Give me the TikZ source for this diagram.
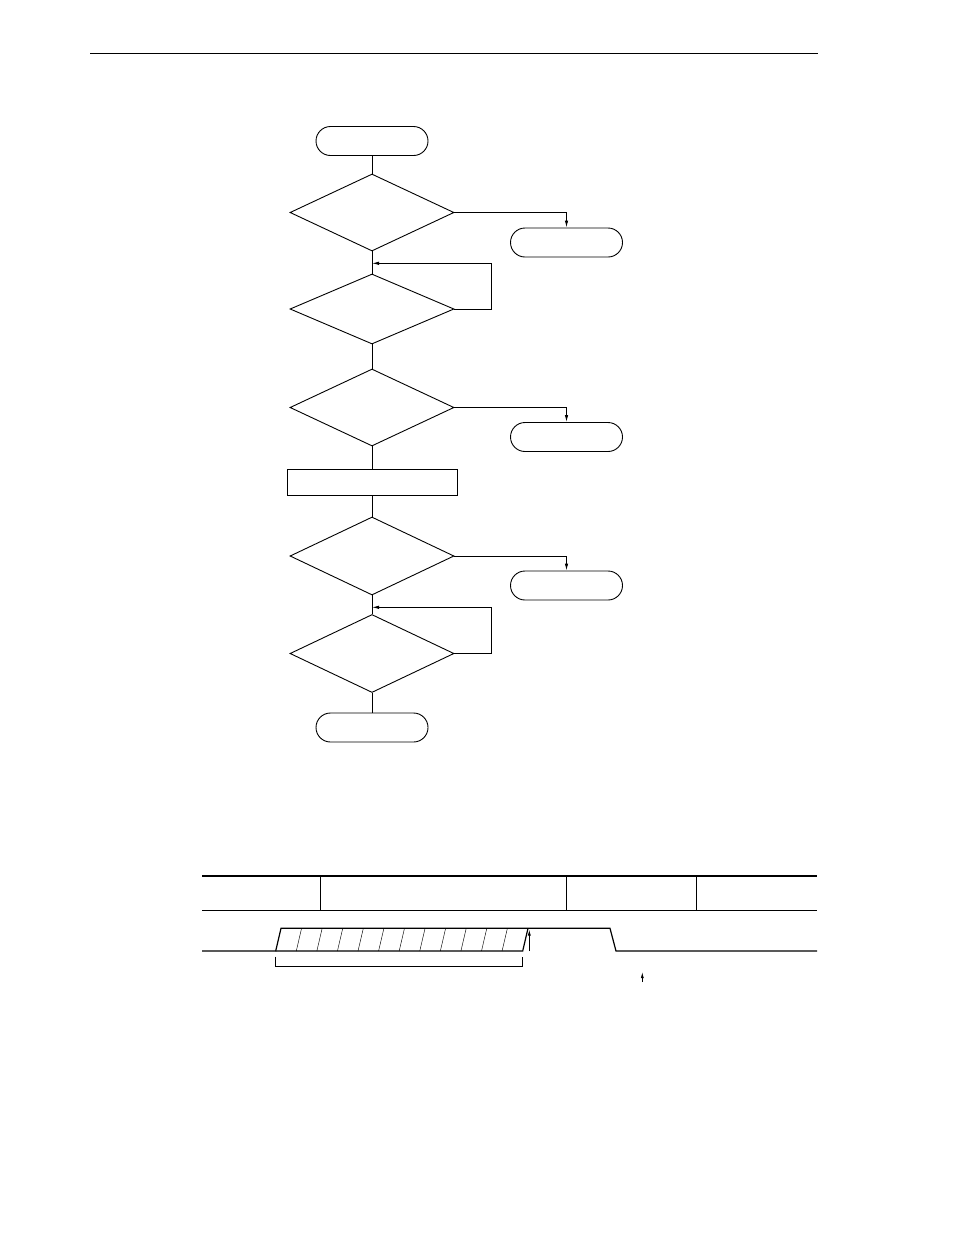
\documentclass[tikz,border=0pt]{standalone}
\usepackage{tikz}
\usetikzlibrary{shapes.geometric, arrows.meta, positioning, calc}

\begin{document}
\begin{tikzpicture}[x=1pt, y=-1pt, line width=0.9pt,
    term/.style={draw, rounded corners=14.5pt, minimum width=112pt, minimum height=29pt, inner sep=0pt},
    decide/.style={draw, diamond, minimum width=164pt, minimum height=77pt, inner sep=0pt},
    procbox/.style={draw, rectangle, minimum width=170pt, minimum height=26pt, inner sep=0pt},
    flowarrow/.style={-{Latex[length=7pt, width=3.5pt]}}]
        \useasboundingbox (0,0) rectangle (954,1235);
        \draw[line width=1pt] (90,53.3) -- (818,53.3);

        % flowchart
        \node[term] at (372,141) (start) {};
        \node[decide] at (372,212.5) (chk1) {};
        \node[term] at (566.5,242.5) (out1) {};
        \node[decide, minimum height=70pt] at (372,309) (wait1) {};
        \node[decide] at (372,407.5) (chk2) {};
        \node[term] at (566.5,437) (out2) {};
        \node[procbox] at (372,482) (proc) {};
        \node[decide, minimum height=78pt] at (372,556) (chk3) {};
        \node[term] at (566.5,585.5) (out3) {};
        \node[decide, minimum height=78pt] at (372,653.5) (wait2) {};
        \node[term] at (372,727.5) (stop) {};
        \coordinate (join1) at (372,263.3);
        \coordinate (join2) at (372,607.3);

        \draw (start) -- (chk1);
        \draw[flowarrow] (chk1.east) -| (out1.north);
        \draw (chk1) -- (wait1);
        \draw[flowarrow] (wait1.east) -- ++(37,0) |- (join1);
        \draw (wait1) -- (chk2);
        \draw[flowarrow] (chk2.east) -| (out2.north);
        \draw (chk2) -- (proc);
        \draw (proc) -- (chk3);
        \draw[flowarrow] (chk3.east) -| (out3.north);
        \draw (chk3) -- (wait2);
        \draw[flowarrow] (wait2.east) -- ++(37,0) |- (join2);
        \draw (wait2) -- (stop);

        % timing
        \draw[line width=1.6pt] (202,876) -- (817,876);
        \draw[line width=1.6pt] (202,910.5) -- (817,910.5);
        \foreach \xx in {320.3, 566.7, 696.5}
            \draw[line width=0.9pt] (\xx,876) -- (\xx,910.5);
        \draw[line width=1.2pt] (202,951) -- (275.7,951) -- (281,928.3) -- (610,928.3) -- (616,951) -- (817,951);
        \draw[line width=1.2pt] (275.7,951) -- (522.7,951) -- (528,928.3);
        \foreach \k in {1,...,11}
            \draw[line width=0.45pt] ({281+\k*20.58},928.3) -- ({275.7+\k*20.58},951);
        \draw[line width=0.9pt] (275.5,956.5) -- (275.5,966) -- (522.7,966) -- (522.7,956.5);
        \draw[line width=0.8pt, -{Latex[length=6pt, width=3pt]}] (529.3,951) -- (529.3,929.5);
        \draw[line width=0.8pt, -{Latex[length=6pt, width=3pt]}] (642.3,982) -- (642.3,972);
    \end{tikzpicture}
\end{document}
